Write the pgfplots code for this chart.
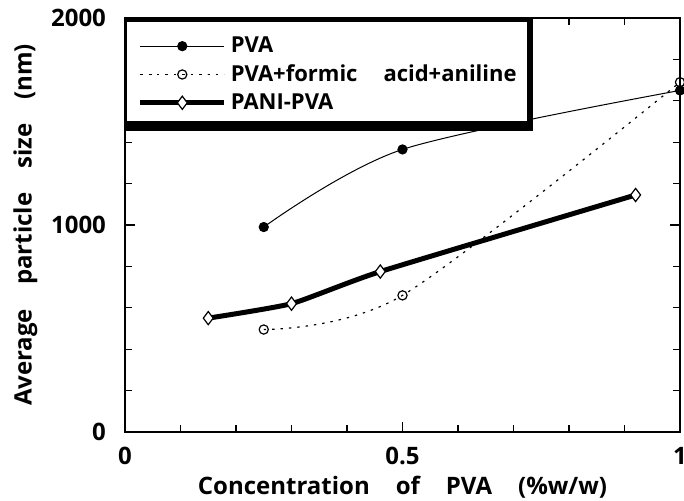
\documentclass[border=0pt]{standalone}
\usepackage{fontspec}
\setmainfont{Open Sans}
\usepackage{pgfplots}
\pgfplotsset{compat=1.18}
\begin{document}
\begin{tikzpicture}
\begin{axis}[
  name=ax,
  scale only axis, width=277.5pt, height=207pt,
  xmin=0, xmax=1, ymin=0, ymax=2000,
  xtick={0,0.5,1}, xticklabels={0,0.5,1},
  minor xtick={0.1,0.2,0.3,0.4,0.6,0.7,0.8,0.9},
  ytick={0,1000,2000}, yticklabels={0,1000,2000},
  minor ytick={200,400,600,800,1200,1400,1600,1800},
  tick align=inside, major tick length=5pt, minor tick length=3.5pt,
  tick style={black, line width=0.6pt},
  axis line style={line width=0.8pt},
  /pgf/number format/assume math mode=true,
  ticklabel style={font=\fontsize{12}{14}\selectfont\bfseries},
  yticklabel style={xshift=-6pt},
  xticklabel style={yshift=-4pt},
  label style={font=\fontsize{12}{14}\selectfont\bfseries},
  xlabel style={yshift=1pt},
  xlabel={Concentration\hspace{13pt}of\hspace{13pt}PVA\hspace{13pt}(\%w/w)},
  ylabel={Average\hspace{12pt}particle\hspace{12pt}size\hspace{12pt}(nm)},
  legend style={name=leg, at={(0,1)}, anchor=north west, draw=black, line width=0.8pt,
    fill=white, font=\fontsize{11}{12}\selectfont\bfseries,
    inner xsep=6pt, inner ysep=7pt, row sep=0.5pt, cells={anchor=west}},
  legend cell align=left,
  legend image code/.code={\draw[mark repeat=2,mark phase=2,#1] plot coordinates {(0pt,0pt) (21pt,0pt) (42pt,0pt)};},
]
\addplot[black, line width=0.5pt, smooth, mark=*, mark size=2.3pt, mark options={solid, fill=black}]
  coordinates {(0.25,990) (0.5,1365) (1,1650)};
\addlegendentry{PVA}
\addplot[black, line width=0.6pt, dash pattern=on 1.2pt off 3pt, smooth, mark=o, mark size=2.3pt, mark options={solid, fill=white, line width=0.6pt}]
  coordinates {(0.25,495) (0.5,660) (1,1690)};
\addlegendentry{PVA+formic\hspace{13pt}acid+aniline}
\addplot[black, line width=2.5pt, smooth, tension=0.3, mark=diamond*, mark size=3.3pt, mark options={solid, fill=white, line width=0.6pt}]
  coordinates {(0.15,550) (0.3,620) (0.46,775) (0.92,1145)};
\addlegendentry{PANI-PVA}
\end{axis}
\fill ([xshift=-3pt]leg.north east) rectangle (leg.south east);
\fill (leg.south west) rectangle ([yshift=5pt]leg.south east);
\fill (leg.north west) rectangle ([yshift=-2pt]leg.north east);
\pgfresetboundingbox
\path[use as bounding box] ([xshift=-62.5pt,yshift=-34.5pt]ax.south west) rectangle ([xshift=2pt,yshift=9pt]ax.north east);
\end{tikzpicture}
\end{document}
